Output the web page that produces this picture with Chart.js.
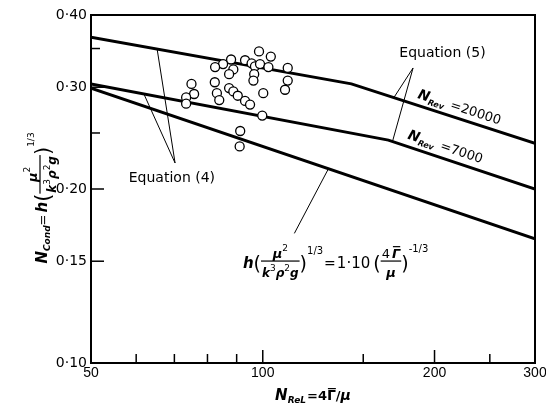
<!DOCTYPE html>
<html>
<head>
<meta charset="utf-8">
<script src="https://cdn.jsdelivr.net/npm/chart.js@4.4.0/dist/chart.umd.min.js"></script>
<style>
  html, body { margin: 0; padding: 0; background: #fff; }
</style>
</head>
<body>
<canvas id="chart" width="546" height="406"></canvas>
<script>
// values (log-log)
const lineRe20000 = [50, 143, 300];
const lineN20000 = [0.366, 0.304, 0.240];
const lineRe7000 = [50, 166, 300];
const lineN7000 = [0.304, 0.243, 0.200];
const corrRe = [50, 300];
const corrN = [0.299, 0.164];

const pointRe = [98.5, 103.3, 88.0, 93.1, 85.2, 82.5, 95.6, 96.9, 98.9, 102.3, 110.6,
  88.8, 87.3, 96.6, 96.3, 110.6, 75.0, 82.4, 109.4, 100.2, 87.3, 88.8, 90.4, 93.1,
  95.0, 83.1, 83.9, 75.8, 73.4, 73.4, 99.8, 91.3, 91.1];
const pointN = [0.346, 0.339, 0.335, 0.334, 0.329, 0.325, 0.330, 0.326, 0.329, 0.325, 0.324,
  0.322, 0.316, 0.316, 0.308, 0.308, 0.304, 0.306, 0.297, 0.293, 0.299, 0.295, 0.290, 0.284,
  0.280, 0.293, 0.285, 0.292, 0.288, 0.281, 0.268, 0.252, 0.237];

const xTicks = [50, 60, 70, 80, 90, 100, 150, 200, 250, 300];
const xLabelled = [50, 100, 200, 300];
const yTicks = [0.10, 0.15, 0.20, 0.25, 0.30, 0.35, 0.40];
const yLabelled = [0.10, 0.15, 0.20, 0.30, 0.40];

const toXY = (xs, ys) => xs.map((v, i) => ({ x: v, y: ys[i] }));

const FAM = '"DejaVu Sans"';
const bi = s => 'italic bold ' + s + 'px ' + FAM;
const rm = s => s + 'px ' + FAM;
const bd = s => 'bold ' + s + 'px ' + FAM;

// draws a row of text pieces (with simple fractions), returns end x
function run(ctx, parts, x, y, draw = true) {
  for (const p of parts) {
    if (p.num) {
      const wn = run(ctx, p.num, 0, 0, false);
      const wd = run(ctx, p.den, 0, 0, false);
      const w = Math.max(wn, wd) + 2;
      if (draw) {
        run(ctx, p.num, x + (w - wn) / 2, y - p.up);
        run(ctx, p.den, x + (w - wd) / 2, y + p.down);
        ctx.fillRect(x, y - p.bar - 0.6, w, 1.2);
      }
      x += w;
    } else {
      ctx.font = p.f;
      const w = ctx.measureText(p.t).width;
      if (draw) {
        ctx.fillText(p.t, x, y + (p.dy || 0));
        if (p.over) ctx.fillRect(x + 1, y + (p.dy || 0) - p.over, w - 1, 1.2);
      }
      x += w + (p.sp || 0);
    }
  }
  return x;
}

const muFrac = {
  num: [{ t: 'μ', f: bi(13) }, { t: '2', f: rm(9), dy: -7 }],
  den: [{ t: 'k', f: bi(12) }, { t: '3', f: rm(9), dy: -6 }, { t: 'ρ', f: bi(12) },
        { t: '2', f: rm(9), dy: -6 }, { t: 'g', f: bi(12) }],
  up: 10, down: 9, bar: 7
};

const formula = [
  { t: 'h', f: bi(15) },
  { t: '(', f: rm(19), dy: 2 },
  muFrac,
  { t: ')', f: rm(19), dy: 2 },
  { t: '1/3', f: rm(10), dy: -14, sp: 1 },
  { t: '=', f: rm(14), sp: 1 },
  { t: '1·10', f: rm(15), sp: 3 },
  { t: '(', f: rm(19), dy: 2 },
  { num: [{ t: '4', f: rm(13), sp: 2 }, { t: 'Γ', f: bi(13), over: 12 }], den: [{ t: 'μ', f: bi(13) }], up: 10, down: 9, bar: 7 },
  { t: ')', f: rm(19), dy: 2 },
  { t: '-1/3', f: rm(10), dy: -16 }
];

const yTitle = [
  { t: 'N', f: bi(15) },
  { t: 'Cond', f: bi(9), dy: 3 },
  { t: '=', f: rm(13), sp: 2 },
  { t: 'h', f: bi(15) },
  { t: '(', f: rm(21), dy: 3 },
  muFrac,
  { t: ')', f: rm(21), dy: 3 },
  { t: '1/3', f: rm(9), dy: -13 }
];

const xTitle = [
  { t: 'N', f: bi(15) },
  { t: 'ReL', f: bi(9), dy: 3, sp: 1 },
  { t: '=4', f: bd(13) },
  { t: 'Γ', f: bd(14), over: 12 },
  { t: '/', f: bd(13) },
  { t: 'μ', f: bi(14) }
];

const rev20000 = [
  { t: 'N', f: bi(14) }, { t: 'Rev', f: bi(8), dy: 3, sp: 6 }, { t: '=20000', f: rm(13) }
];
const rev7000 = [
  { t: 'N', f: bi(14) }, { t: 'Rev', f: bi(8), dy: 3, sp: 6 }, { t: '=7000', f: rm(13) }
];

const decor = {
  id: 'decor',
  afterDraw(chart) {
    const { ctx, chartArea: a } = chart;
    const sx = chart.scales.x, sy = chart.scales.y;
    const P = (re, n) => [sx.getPixelForValue(re), sy.getPixelForValue(n)];
    const seg = (p, q) => { ctx.beginPath(); ctx.moveTo(p[0], p[1]); ctx.lineTo(q[0], q[1]); ctx.stroke(); };

    ctx.save();
    ctx.strokeStyle = '#000';
    ctx.fillStyle = '#000';
    ctx.lineWidth = 2;
    ctx.strokeRect(a.left, a.top, a.right - a.left, a.bottom - a.top);

    // inward ticks
    ctx.lineWidth = 1.5;
    xTicks.forEach(v => {
      const px = sx.getPixelForValue(v);
      const len = xLabelled.includes(v) ? 13 : 9;
      seg([px, a.bottom], [px, a.bottom - len]);
    });
    yTicks.forEach(v => {
      const py = sy.getPixelForValue(v);
      const len = yLabelled.includes(v) ? 13 : 9;
      seg([a.left, py], [a.left + len, py]);
    });

    // pointer lines
    ctx.lineWidth = 1;
    const apex4 = P(70.2, 0.2218);
    seg(apex4, P(65.3, 0.349));
    seg(apex4, P(61.9, 0.292));
    const apex5 = P(183.4, 0.3239);
    seg(apex5, P(169.8, 0.288));
    seg(apex5, P(168.8, 0.2417));
    seg(P(113.6, 0.1676), P(130.4, 0.217));

    // labels
    ctx.textBaseline = 'middle';
    ctx.textAlign = 'center';
    ctx.font = rm(14);
    let p = P(69.3, 0.209);
    ctx.fillText('Equation (4)', p[0], p[1]);
    p = P(206.5, 0.3438);
    ctx.fillText('Equation (5)', p[0], p[1]);

    ctx.textBaseline = 'alphabetic';
    ctx.textAlign = 'left';

    // rotated N_Rev labels, following their lines
    const tilt = (xs, ys) => {
      const q1 = P(xs[1], ys[1]), q2 = P(xs[2], ys[2]);
      return Math.atan2(q2[1] - q1[1], q2[0] - q1[0]);
    };
    p = P(186.4, 0.2874);
    ctx.save();
    ctx.translate(p[0], p[1]);
    ctx.rotate(tilt(lineRe20000, lineN20000));
    run(ctx, rev20000, 0, 0);
    ctx.restore();

    p = P(179, 0.2446);
    ctx.save();
    ctx.translate(p[0], p[1]);
    ctx.rotate(tilt(lineRe7000, lineN7000));
    run(ctx, rev7000, 0, 0);
    ctx.restore();

    // correlation formula
    p = P(92.3, 0.1495);
    run(ctx, formula, p[0], p[1] + 6);

    // axis titles
    const wx = run(ctx, xTitle, 0, 0, false);
    run(ctx, xTitle, (a.left + a.right) / 2 - wx / 2, 400);

    const wy = run(ctx, yTitle, 0, 0, false);
    ctx.save();
    ctx.translate(47, 198 + wy / 2);
    ctx.rotate(-Math.PI / 2);
    run(ctx, yTitle, 0, 0);
    ctx.restore();

    ctx.restore();
  }
};

const lineStyle = {
  showLine: true, borderColor: '#000', borderWidth: 3, pointRadius: 0, fill: false, tension: 0
};

new Chart(document.getElementById('chart'), {
  type: 'scatter',
  data: {
    datasets: [
      {
        data: toXY(pointRe, pointN),
        pointRadius: 4.5,
        pointBorderWidth: 1.3,
        pointBorderColor: '#000',
        pointBackgroundColor: '#fff'
      },
      Object.assign({ data: toXY(lineRe20000, lineN20000) }, lineStyle),
      Object.assign({ data: toXY(lineRe7000, lineN7000) }, lineStyle),
      Object.assign({ data: toXY(corrRe, corrN) }, lineStyle)
    ]
  },
  options: {
    responsive: false,
    animation: false,
    layout: { padding: { top: 15, right: 11, left: 0, bottom: 0 } },
    plugins: { legend: { display: false }, tooltip: { enabled: false } },
    scales: {
      x: {
        type: 'logarithmic',
        min: 50,
        max: 300,
        grid: { display: false, drawTicks: false },
        border: { display: false },
        afterBuildTicks: s => { s.ticks = xTicks.map(v => ({ value: v })); },
        afterFit: s => { s.height = 43; s.paddingLeft = 0; s.paddingRight = 0; },
        ticks: {
          autoSkip: false,
          maxRotation: 0,
          padding: 2,
          color: '#000',
          font: { family: 'Liberation Sans', size: 14 },
          callback: v => xLabelled.includes(v) ? String(v) : ''
        }
      },
      y: {
        type: 'logarithmic',
        min: 0.10,
        max: 0.40,
        grid: { display: false, drawTicks: false },
        border: { display: false },
        afterBuildTicks: s => { s.ticks = yTicks.map(v => ({ value: v })); },
        afterFit: s => { s.width = 91; s.paddingTop = 0; s.paddingBottom = 0; },
        ticks: {
          autoSkip: false,
          padding: 4,
          color: '#000',
          font: { family: 'DejaVu Sans', size: 14 },
          callback: v => yLabelled.some(t => Math.abs(t - v) < 1e-6) ? v.toFixed(2).replace('.', '·') : ''
        }
      }
    }
  },
  plugins: [decor]
});
</script>
</body>
</html>
